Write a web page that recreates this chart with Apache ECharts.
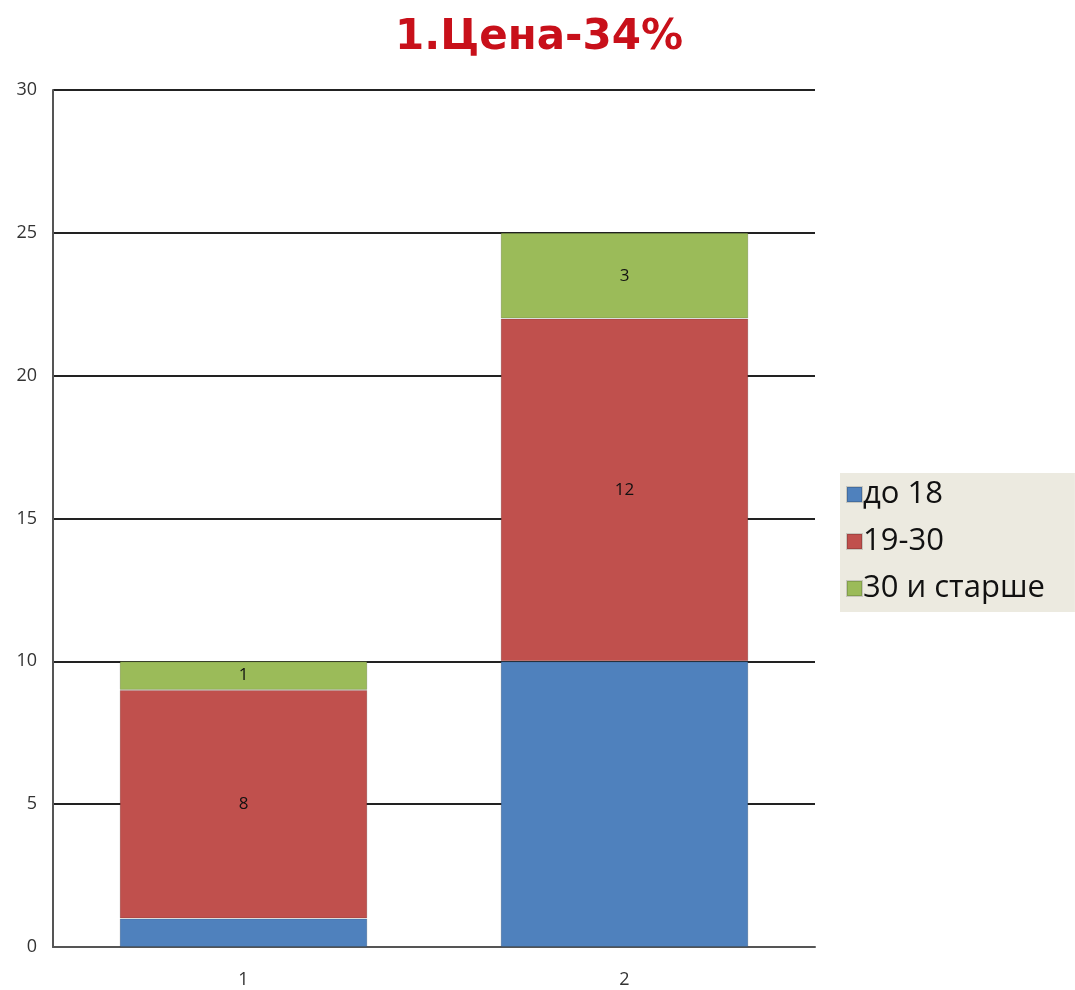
<!DOCTYPE html>
<html><head><meta charset="utf-8">
<script src="https://cdn.jsdelivr.net/npm/echarts@6/dist/echarts.min.js"></script>
<style>html,body{margin:0;padding:0;background:#fff}#c{width:1075px;height:990px}</style>
</head><body><div id="c"></div>
<script>
const categories = ['1', '2'];
const seriesNames = ['до 18', '19-30', '30 и старше'];
const under18 = [1, 10];
const age19to30 = [8, 12];
const age30plus = [1, 3];
const showLabels = [false, true, true];
const colors = ['#4F81BD', '#C0504D', '#9BBB59'];
const values = [under18, age19to30, age30plus];

const chart = echarts.init(document.getElementById('c'));
chart.setOption({
  animation: false,
  title: {
    text: '1.Цена-34%', left: 534, top: 12, textAlign: 'center',
    textStyle: { color: '#C8101A', fontSize: 42, fontWeight: 'bold', fontFamily: 'DejaVu Sans' }
  },
  legend: {
    orient: 'vertical', left: 840, top: 473, width: 235,
    padding: [6, 30, 8, 6],
    backgroundColor: '#ECEAE0',
    itemWidth: 15, itemHeight: 15, itemGap: 16, icon: 'rect',
    textStyle: { fontSize: 31, color: '#111', fontFamily: 'Open Sans', padding: [0, 0, 0, -4] },
    data: seriesNames
  },
  grid: { left: 53, right: 260, top: 90, bottom: 43, containLabel: false },
  xAxis: {
    type: 'category', data: categories,
    axisLine: { lineStyle: { color: '#555', width: 2 } },
    axisTick: { show: false },
    axisLabel: { fontSize: 18, color: '#333', margin: 24, fontFamily: 'Open Sans' }
  },
  yAxis: {
    type: 'value', min: 0, max: 30, interval: 5,
    axisLine: { show: true, lineStyle: { color: '#555', width: 2 } },
    axisTick: { show: false },
    axisLabel: { fontSize: 18, color: '#333', margin: 16, fontFamily: 'Open Sans' },
    splitLine: { lineStyle: { color: '#222', width: 2 } }
  },
  series: values.map((v, i) => ({
    name: seriesNames[i], type: 'bar', stack: 'a', data: v,
    barWidth: '65%',
    itemStyle: { color: colors[i], borderColor: 'rgba(0,0,0,0.15)', borderWidth: 1 },
    label: { show: showLabels[i], position: 'inside', color: '#111', fontSize: 17, fontFamily: 'Open Sans' }
  }))
});
</script></body></html>
